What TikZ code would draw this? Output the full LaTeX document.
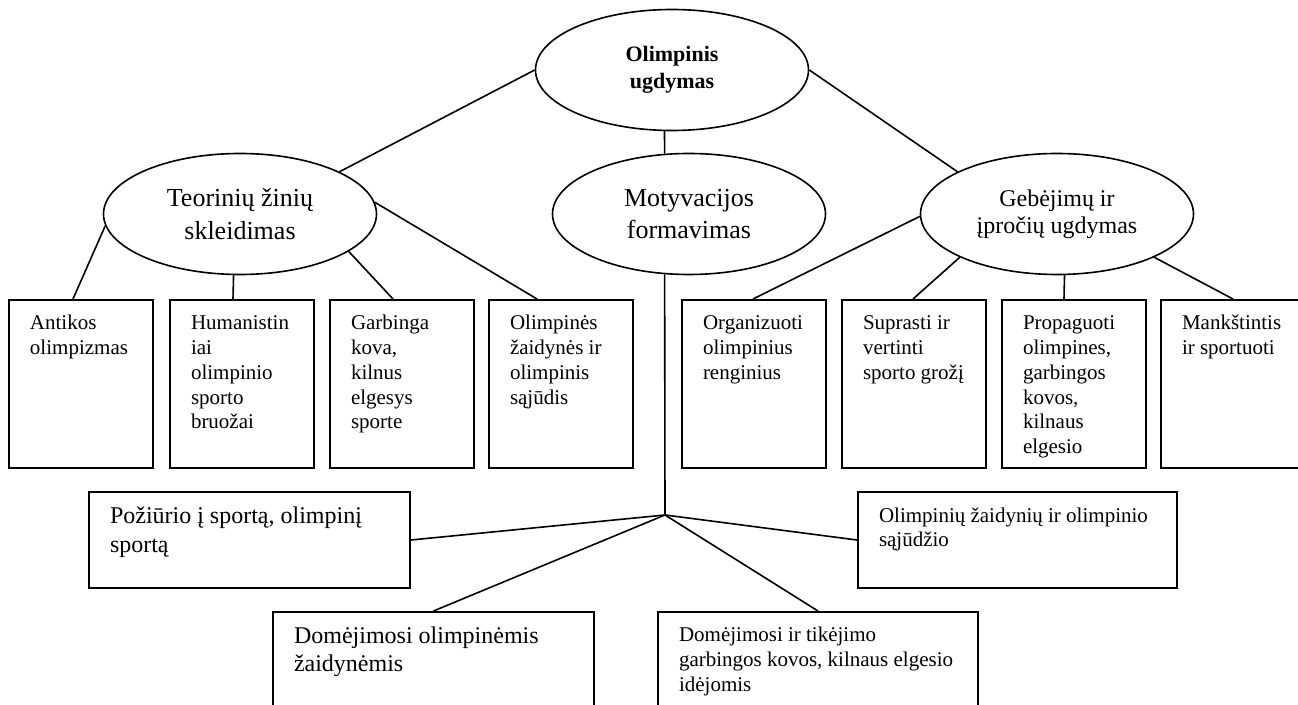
\documentclass[tikz,border=0pt]{standalone}
\usepackage{fontspec}
\setmainfont{Liberation Serif}
\usetikzlibrary{shapes.geometric}

\newdimen\pxu
\pxu=0.5pt

% text block pinned to the top left corner of a box
\newcommand{\leaftext}[4]{%
  \parbox[c][#2][t]{#1}{\raggedright\leftskip=21\pxu\rule{0pt}{#3}#4}}

\tikzset{
  topic/.style={
    shape = ellipse,
    draw,
    line width = 0.8pt,
    inner sep = 0pt,
    minimum width = 273\pxu,
    minimum height = 121\pxu,
    align = center
  },
  leaf/.style={
    shape = rectangle,
    draw,
    line width = 1pt,
    inner sep = 0pt,
    anchor = north west,
    font = \fontsize{10.5}{12.35}\selectfont
  },
  bigleaf/.style={
    leaf,
    font = \fontsize{12}{14.5}\selectfont
  },
  link/.style={
    line width = 0.8pt
  }
}

\begin{document}
\begin{tikzpicture}[x=0.5pt, y=-0.5pt]
        \useasboundingbox (0,0) rectangle (1298,705);
        \clip (0,0) rectangle (1298,705);

        \node[topic, font=\bfseries\fontsize{11}{13.3}\selectfont] (oly) at (672,70) {Olimpinis\\ugdymas};
        \node[topic, font=\fontsize{13}{16.3}\selectfont] (teo) at (240,214) {Teorinių žinių\\skleidimas};
        \node[topic, font=\fontsize{13}{16.3}\selectfont] (mot) at (689,214) {Motyvacijos\\formavimas};
        \node[topic, font=\fontsize{12}{13.7}\selectfont] (geb) at (1057,214) {Gebėjimų ir\\įpročių ugdymas};

        \node[leaf] (ant) at (8,299) {\leaftext{144\pxu}{168\pxu}{30\pxu}{Antikos\\olimpizmas}};
        \node[leaf] (hum) at (169,299) {\leaftext{144\pxu}{168\pxu}{30\pxu}{Humanistin\\iai\\olimpinio\\sporto\\bruožai}};
        \node[leaf] (gar) at (329,299) {\leaftext{144\pxu}{168\pxu}{30\pxu}{Garbinga\\kova,\\kilnus\\elgesys\\sporte}};
        \node[leaf] (olz) at (488,299) {\leaftext{144\pxu}{168\pxu}{30\pxu}{Olimpinės\\žaidynės ir\\olimpinis\\sąjūdis}};
        \node[leaf] (org) at (681,299) {\leaftext{144\pxu}{168\pxu}{30\pxu}{Organizuoti\\olimpinius\\renginius}};
        \node[leaf] (sup) at (841,299) {\leaftext{144\pxu}{168\pxu}{30\pxu}{Suprasti ir\\vertinti\\sporto grožį}};
        \node[leaf] (pro) at (1001,299) {\leaftext{144\pxu}{168\pxu}{30\pxu}{Propaguoti\\olimpines,\\garbingos\\kovos,\\kilnaus\\elgesio}};
        \node[leaf] (man) at (1160,299) {\leaftext{144\pxu}{168\pxu}{30\pxu}{Mankštintis\\ir sportuoti}};

        \coordinate (hub) at (665,515);
        \node[bigleaf] (poz) at (88,491) {\leaftext{321\pxu}{96\pxu}{32\pxu}{Požiūrio į sportą, olimpinį\\sportą}};
        \node[leaf, font=\fontsize{10.5}{12}\selectfont] (ozj) at (857,491) {\leaftext{319\pxu}{96\pxu}{31\pxu}{Olimpinių žaidynių ir olimpinio\\sąjūdžio}};
        \node[bigleaf, font=\fontsize{12}{14}\selectfont] (dom) at (272,611) {\leaftext{321\pxu}{120\pxu}{32\pxu}{Domėjimosi olimpinėmis\\žaidynėmis}};
        \node[leaf, font=\fontsize{10.5}{12.5}\selectfont] (dti) at (657,611) {\leaftext{320\pxu}{120\pxu}{30\pxu}{Domėjimosi ir tikėjimo\\garbingos kovos, kilnaus elgesio\\idėjomis}};

        \draw[link] (oly.180) -- (teo.23);
        \draw[link] (oly.263) -- (mot.112);
        \draw[link] (oly.0) -- (geb.157);

        \draw[link] (teo.185) -- ([xshift=65\pxu]ant.north west);
        \draw[link] (teo.264) -- ([xshift=64\pxu]hum.north west);
        \draw[link] (teo.341) -- ([xshift=64\pxu]gar.north west);
        \draw[link] (teo.5) -- ([xshift=49\pxu]olz.north west);

        \draw[link] (geb.181) -- ([xshift=72\pxu]org.north west);
        \draw[link] (geb.204) -- ([xshift=72\pxu]sup.north west);
        \draw[link] (geb.277) -- ([xshift=63\pxu]pro.north west);
        \draw[link] (geb.336) -- ([xshift=73\pxu]man.north west);

        \draw[link] (mot.248) -- (hub);
        \draw[link] (hub) -- (poz.east);
        \draw[link] (hub) -- (ozj.west);
        \draw[link] (hub) -- (dom.north);
        \draw[link] (hub) -- (dti.north);
\end{tikzpicture}
\end{document}
